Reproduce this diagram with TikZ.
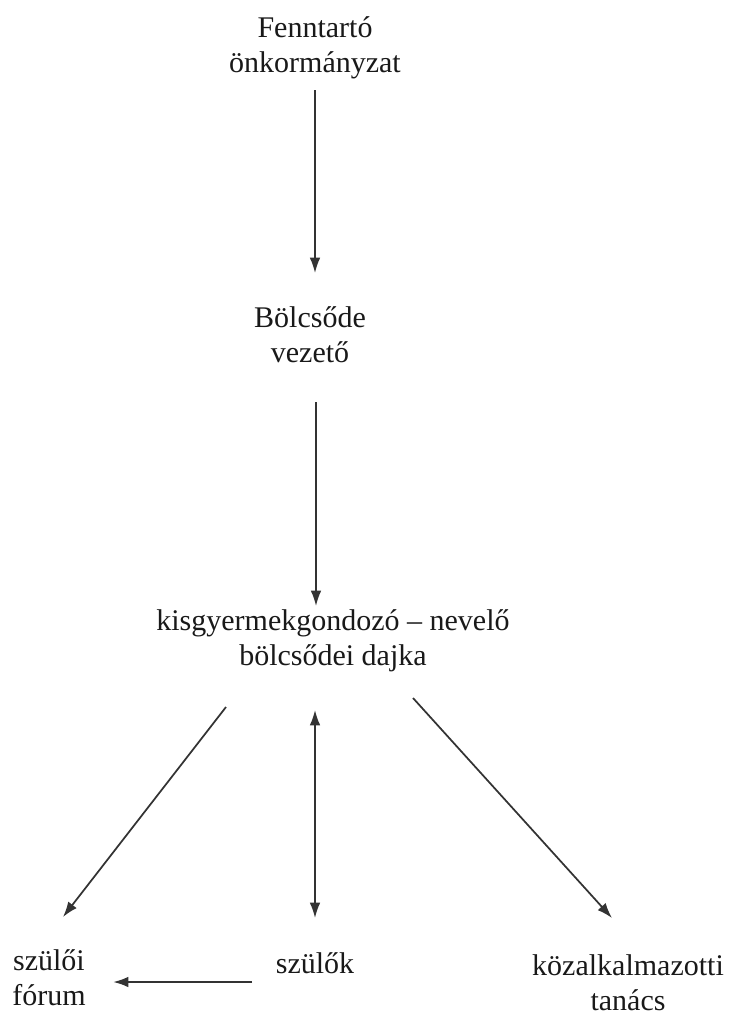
\documentclass[tikz,border=0pt]{standalone}
\usepackage{fontspec}
\setmainfont{Liberation Serif}
\usetikzlibrary{arrows.meta,calc}
\begin{document}
\begin{tikzpicture}[x=0.75pt,y=-0.75pt,
  lbl/.style={inner sep=0pt,outer sep=0pt,align=center,anchor=base,
    font=\fontsize{22.5}{26}\selectfont,text=black!90},
  arr/.style={draw=black!80,line width=1.3pt,-{Latex[length=11.5pt,width=8pt]}},
  dblarr/.style={arr,{Latex[length=11.5pt,width=8pt]}-{Latex[length=11.5pt,width=8pt]}}]
\useasboundingbox (0,0) rectangle (730,1021);

% organisational levels (anchored at the baseline of the last line)
\node[lbl] (top)     at (315,72)   {Fenntartó\\önkormányzat};
\node[lbl] (mgr)     at (310,362)  {Bölcsőde\\vezető};
\node[lbl] (staff)   at (333,665)  {kisgyermekgondozó – nevelő\\bölcsődei dajka};
\node[lbl] (forum)   at (49,1005)  {szülői\\fórum};
\node[lbl] (parents) at (315,973)  {szülők};
\node[lbl] (council) at (628,1010) {közalkalmazotti\\tanács};

% connections
\draw[arr] ($(top.base)+(0,18)$) -- ($(mgr.base)+(5,-89)$);
\draw[arr] ($(mgr.base)+(6,40)$) -- ($(staff.base)+(-17,-59)$);
\draw[arr] ($(staff.base)+(-107,42)$) -- ($(forum.base)+(14,-88)$);
\draw[dblarr] ($(staff.base)+(-18,45)$) -- ($(parents.base)+(0,-55)$);
\draw[arr] ($(staff.base)+(80,33)$) -- ($(council.base)+(-16,-92)$);
\draw[arr,line width=1.7pt] ($(parents.base)+(-63,9)$) -- ($(forum.base)+(64,-23)$);
\end{tikzpicture}
\end{document}
